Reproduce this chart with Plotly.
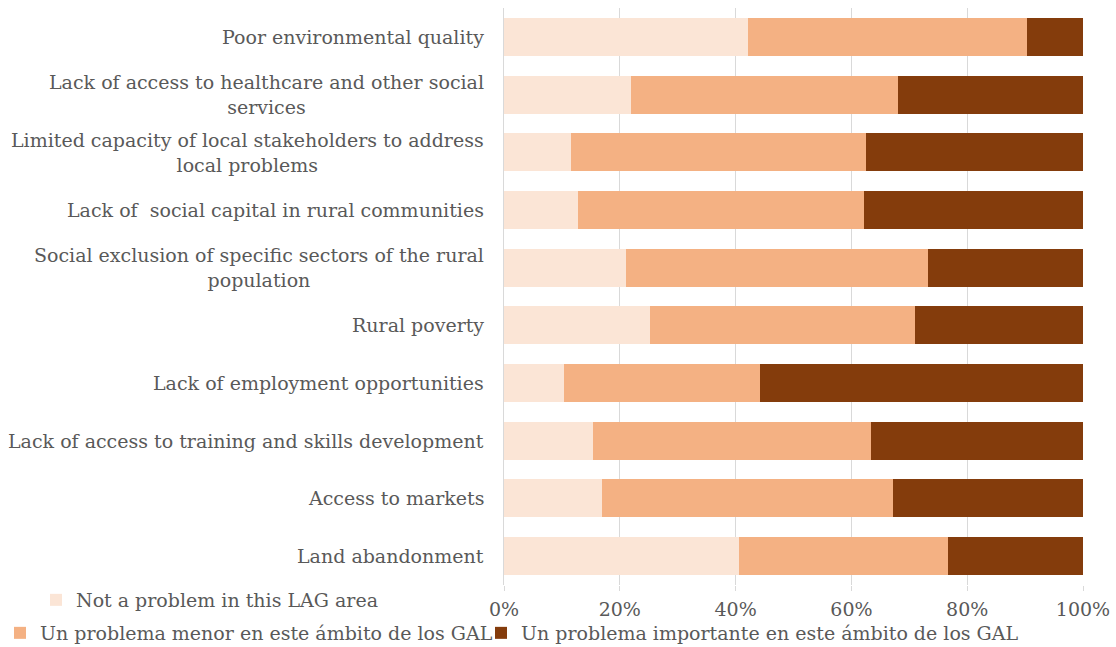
import plotly.graph_objects as go

# Problems listed top to bottom
categories = [
    "Poor environmental quality",
    "Lack of access to healthcare and other social<br>services",
    "Limited capacity of local stakeholders to address<br>local problems",
    "Lack of  social capital in rural communities",
    "Social exclusion of specific sectors of the rural<br>population",
    "Rural poverty",
    "Lack of employment opportunities",
    "Lack of access to training and skills development",
    "Access to markets",
    "Land abandonment",
]

# Shares of LAGs (%) per answer
not_a_problem = [42.2, 21.9, 11.6, 12.8, 21.1, 25.2, 10.4, 15.3, 17.0, 40.6]
minor_problem = [48.1, 46.1, 51.0, 49.3, 52.1, 45.8, 33.8, 48.1, 50.2, 36.0]
major_problem = [9.7, 32.0, 37.4, 37.9, 26.8, 29.0, 55.8, 36.6, 32.8, 23.4]

series_names = [
    "Not a problem in this LAG area",
    "Un problema menor en este ámbito de los GAL",
    "Un problema importante en este ámbito de los GAL",
]
series_colors = ["#FBE5D6", "#F4B183", "#843C0C"]
x_ticks = [0, 20, 40, 60, 80, 100]
x_tick_labels = ["0%", "20%", "40%", "60%", "80%", "100%"]

FONT = "DejaVu Serif"
TEXT = "#595959"

fig = go.Figure()
for vals, name, color, leg in zip(
    [not_a_problem, minor_problem, major_problem],
    series_names, series_colors, ["legend2", "legend3", "legend4"],
):
    fig.add_trace(go.Bar(
        y=categories, x=vals, name=name, orientation="h",
        marker=dict(color=color, line=dict(width=0)),
        legend=leg, hoverinfo="x+name",
    ))

# Category labels, centred line by line and right-aligned against the axis
for cat in categories:
    fig.add_annotation(
        x=0, xref="paper", y=cat, yref="y", xanchor="right", yanchor="middle",
        xshift=-18, text=cat, showarrow=False, align="center",
        font=dict(family=FONT, size=19, color=TEXT),
    )

legend_common = dict(
    xref="container", yref="container", orientation="h",
    font=dict(family=FONT, size=19, color=TEXT),
    bgcolor="rgba(0,0,0,0)", borderwidth=0, itemwidth=30,
    xanchor="left", yanchor="middle", visible=True,
)

fig.update_layout(
    width=1116, height=647,
    margin=dict(l=504, r=33, t=8, b=62, autoexpand=False),
    barmode="stack", bargap=0.34,
    plot_bgcolor="white", paper_bgcolor="white",
    font=dict(family=FONT, size=19, color=TEXT),
    legend2=dict(x=36 / 1116, y=1 - 600 / 647, **legend_common),
    legend3=dict(x=0, y=1 - 633 / 647, **legend_common),
    legend4=dict(x=481 / 1116, y=1 - 633 / 647, **legend_common),
    xaxis=dict(
        range=[0, 100], tickvals=x_ticks, ticktext=x_tick_labels,
        showgrid=True, gridcolor="#D9D9D9", gridwidth=1,
        zeroline=False, showline=False,
        ticks="outside", ticklen=5, tickcolor="#D9D9D9",
        ticklabelstandoff=2,
        tickfont=dict(family=FONT, size=19, color=TEXT),
        fixedrange=True,
    ),
    yaxis=dict(
        categoryorder="array", categoryarray=categories[::-1],
        showticklabels=False, showgrid=False, zeroline=False,
        showline=True, linecolor="#D9D9D9", linewidth=1,
        fixedrange=True,
    ),
)

fig.write_html("out.html")
